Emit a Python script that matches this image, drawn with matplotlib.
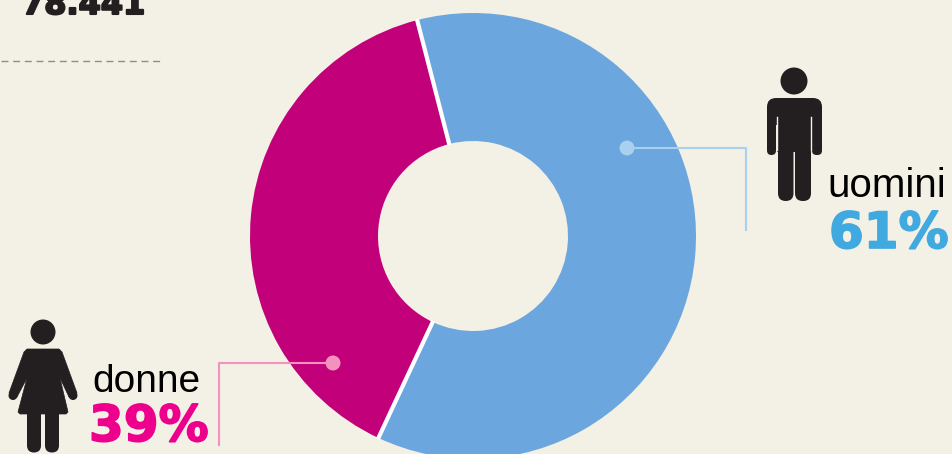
import matplotlib
matplotlib.use("Agg")
import matplotlib.pyplot as plt
from matplotlib.patches import Circle, FancyBboxPatch, Polygon
import matplotlib.patheffects as pe
import numpy as np

labels = ["donne", "uomini"]
shares = [39, 61]
share_labels = ["39%", "61%"]
total_label = "78.441"
wedge_colors = ["#c2007a", "#6ca6de"]

W, H = 952, 454
BG = "#f3f0e5"
INK = "#231f20"

fig = plt.figure(figsize=(W / 100, H / 100), dpi=100, facecolor=BG)
ax = fig.add_axes([0, 0, 1, 1])


def py(y):
    # picture coordinates have y going down
    return H - y


def rbox(x0, y0, x1, y1, r, color=INK, zorder=5):
    ax.add_patch(FancyBboxPatch((x0 + r, py(y1) + r), x1 - x0 - 2 * r, y1 - y0 - 2 * r,
                                boxstyle=f"round,pad={r},rounding_size={r}",
                                fc=color, ec="none", zorder=zorder))


# donut, white only on the two cuts between the wedges
cx, cy, r_out, r_in = 473, py(236), 223, 95
wedges, _ = ax.pie(shares, colors=wedge_colors, startangle=104.5, center=(cx, cy), radius=r_out,
                   wedgeprops=dict(width=r_out - r_in, linewidth=0), frame=True)
for w in wedges:
    a = np.deg2rad(w.theta1)
    ax.plot([cx + (r_in - 1) * np.cos(a), cx + (r_out + 1) * np.cos(a)],
            [cy + (r_in - 1) * np.sin(a), cy + (r_out + 1) * np.sin(a)],
            color="white", lw=3, solid_capstyle="butt", zorder=3)
ax.set_xlim(0, W)
ax.set_ylim(0, H)
ax.set_aspect("equal")
ax.axis("off")

# total cut off at the top, with the dashed rule below it
ax.text(22, py(14), total_label, fontsize=23, fontweight="bold", family="DejaVu Sans",
        color=INK, va="baseline", ha="left",
        path_effects=[pe.withStroke(linewidth=1.5, foreground=INK)])
ax.plot([1, 163], [py(61), py(61)], color="#8f8d88", lw=1, dashes=(5, 3.4))

# leader lines
ax.plot([627, 746, 746], [py(148), py(148), py(230)], color="#a9d0ee", lw=1.5, zorder=4)
ax.add_patch(Circle((627, py(148)), 7.5, fc="#a9d0ee", ec="none", zorder=4))
ax.plot([333, 219, 219], [py(363), py(363), py(445)], color="#f492bf", lw=1.5, zorder=4)
ax.add_patch(Circle((333, py(363)), 7.5, fc="#f492bf", ec="none", zorder=4))

# man
ax.add_patch(Circle((794, py(81)), 13.5, fc=INK, ec="none", zorder=5))
rbox(767, 98, 822, 125, 9)
rbox(767, 108, 776, 155, 4.5)
rbox(812, 108, 822, 155, 4.5)
ax.plot([776.8, 776.8], [py(117), py(150)], color=BG, lw=1, zorder=6)
ax.plot([811.2, 811.2], [py(117), py(150)], color=BG, lw=1, zorder=6)
rbox(777, 105, 811, 152, 1)
rbox(778, 140, 793.5, 201, 7.7)
rbox(795, 140, 811, 201, 7.7)

# woman
ax.add_patch(Circle((43, py(332)), 12.5, fc=INK, ec="none", zorder=5))
ax.add_patch(Polygon([(27, py(349)), (59, py(349)), (62, py(352)), (77, py(393)), (69, py(397)),
                      (60, py(378)), (68, py(412)), (66, py(414)), (20, py(414)), (18, py(412)),
                      (27, py(378)), (17, py(397)), (9, py(393)), (24, py(352))],
                     closed=True, fc=INK, ec=INK, lw=0.5, joinstyle="round", zorder=5))
ax.add_patch(Circle((13, py(395.5)), 4.5, fc=INK, ec="none", zorder=5))
ax.add_patch(Circle((73, py(395.5)), 4.5, fc=INK, ec="none", zorder=5))
rbox(27, 405, 41, 452.5, 7)
rbox(45, 405, 59, 452.5, 7)

# labels
ax.text(827, py(197), labels[1], fontsize=29, family="Liberation Sans", color="black", va="baseline")
ax.text(92, py(392), labels[0], fontsize=28, family="Liberation Sans", color="black", va="baseline")
heavy = [pe.withStroke(linewidth=1.2, foreground="#3fa9e0")]
ax.text(829, py(248), share_labels[1], fontsize=36, fontweight="bold", family="DejaVu Sans",
        color="#3fa9e0", va="baseline", path_effects=heavy)
heavy = [pe.withStroke(linewidth=1.2, foreground="#ec008c")]
ax.text(89, py(441), share_labels[0], fontsize=36, fontweight="bold", family="DejaVu Sans",
        color="#ec008c", va="baseline", path_effects=heavy)

fig.savefig("out.png", dpi=100, facecolor=BG)
